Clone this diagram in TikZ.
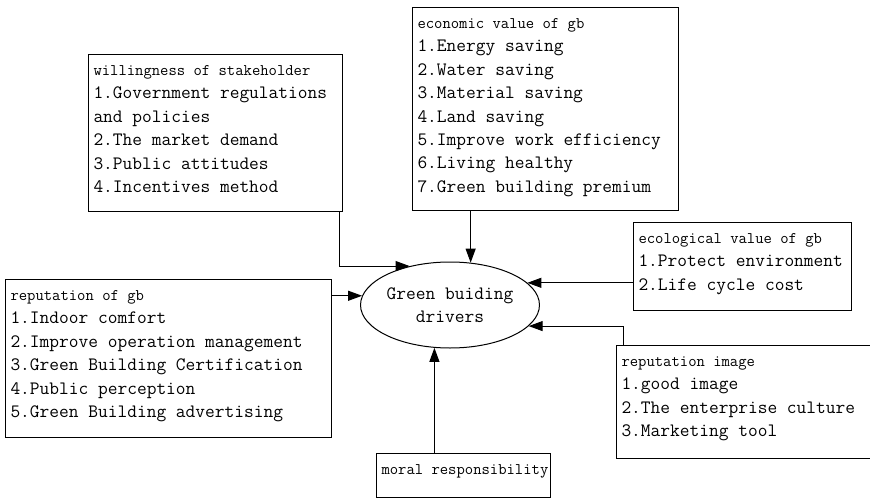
\documentclass[tikz,border=0pt]{standalone}
\usepackage{fontspec}
\usetikzlibrary{arrows.meta,shapes.geometric}
\newcommand{\boxhead}{\fontsize{16.2}{23.4}\selectfont}

\begin{document}
\begin{tikzpicture}[x=1pt, y=-1pt,
      every node/.style={font=\ttfamily\fontsize{18.9}{23.4}\selectfont},
      box/.style={draw, line width=1pt, anchor=north west,
                  inner xsep=5pt, inner ysep=0pt},
      drvnode/.style={ellipse, draw, line width=1pt, minimum width=148pt,
                  minimum height=86pt, inner sep=0pt, align=center},
      arr/.style={-{Triangle[length=14pt, width=10pt]}, line width=1pt}
    ]
    \useasboundingbox (0,0) rectangle (870,498);
    % centre
    \node[drvnode] (drv) at (450,305) {Green buiding\\drivers};
    % factor boxes
    \node[box] (will) at (88,54) {\parbox[c][157pt][t]{244pt}{\raggedright
      \rule{0pt}{21pt}{\boxhead willingness of stakeholder}\\
      1.Government regulations\\
      and policies\\
      2.The market demand\\
      3.Public attitudes\\
      4.Incentives method}};
    \node[box] (econ) at (412,7) {\parbox[c][203pt][t]{256pt}{\raggedright
      \rule{0pt}{21pt}{\boxhead economic value of gb}\\
      1.Energy saving\\
      2.Water saving\\
      3.Material saving\\
      4.Land saving\\
      5.Improve work efficiency\\
      6.Living healthy\\
      7.Green building premium}};
    \node[box] (eco) at (633,222) {\parbox[c][88pt][t]{208pt}{\raggedright
      \rule{0pt}{21pt}{\boxhead ecological value of gb}\\
      1.Protect environment\\
      2.Life cycle cost}};
    \node[box] (repgb) at (5,279) {\parbox[c][158pt][t]{316pt}{\raggedright
      \rule{0pt}{21pt}{\boxhead reputation of gb}\\
      1.Indoor comfort\\
      2.Improve operation management\\
      3.Green Building Certification\\
      4.Public perception\\
      5.Green Building advertising}};
    \node[box] (repimg) at (616,345) {\parbox[c][113pt][t]{250pt}{\raggedright
      \rule{0pt}{21pt}{\boxhead reputation image}\\
      1.good image\\
      2.The enterprise culture\\
      3.Marketing tool}};
    \node[box] (moral) at (376,453) {\parbox[c][44pt][t]{164pt}{\raggedright
      \rule{0pt}{21pt}\mbox{\boxhead moral responsibility}}};
    % arrows into the centre
    \draw[arr] ([xshift=-4pt]will.south east) |- (drv.136);
    \draw[arr] (econ.south -| drv.64) -- (drv.64);
    \draw[arr] (drv.16 -| eco.west) -- (drv.16);
    \draw[arr] ([xshift=7pt]repimg.north west) |- (drv.-15);
    \draw[arr] (drv.174 -| repgb.east) -- (drv.174);
    \draw[arr] (moral.north -| drv.250) -- (drv.250);
  \end{tikzpicture}
\end{document}
